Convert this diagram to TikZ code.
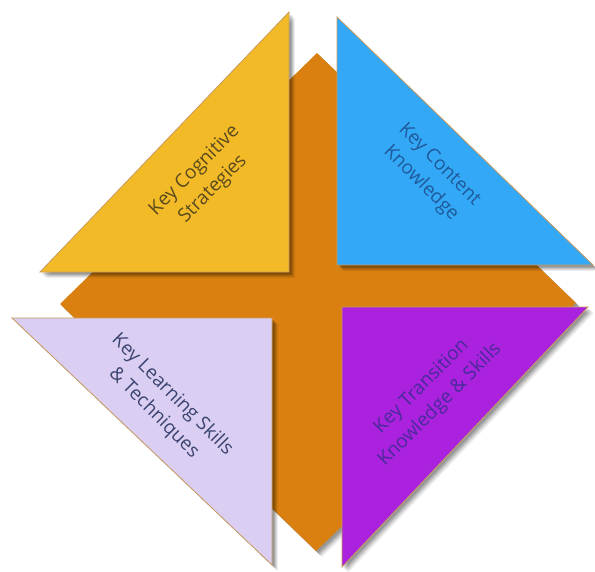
\documentclass[tikz,border=0pt]{standalone}
\usepackage{fontspec}
\setmainfont{Open Sans}
\definecolor{basecol}{HTML}{D98010}
\definecolor{cogfill}{HTML}{F2BA26}
\definecolor{cogtext}{HTML}{5A4A1E}
\definecolor{confill}{HTML}{33A8F7}
\definecolor{context}{HTML}{1F5A9A}
\definecolor{learnfill}{HTML}{DACFF3}
\definecolor{learntext}{HTML}{3C4470}
\definecolor{transfill}{HTML}{AA22DD}
\definecolor{transtext}{HTML}{4A2A9A}
\definecolor{rim}{HTML}{C89A60}
% soft shadow: a few faint copies of a path, shifted down and to the right
\newcommand\softshadow[1]{%
  \foreach \d/\o in {6/0.06,5/0.08,4/0.10,3/0.12,2/0.12}{%
    \fill[black,opacity=\o,shift={(\d,\d)}] #1;}}
\tikzset{
  piece/.style={draw=rim,line width=0.8pt,line join=miter},
  label/.style={align=center,font=\fontsize{19}{26}\selectfont,inner sep=0pt},
}
\begin{document}
\begin{tikzpicture}[x=1pt,y=-1pt]
\useasboundingbox (0,0) rectangle (595,571);
\fill[white] (0,0) rectangle (595,571);

% central diamond
\softshadow{(317,53) -- (576,303) -- (316,551) -- (60,304) -- cycle}
\fill[basecol] (317,53) -- (576,303) -- (316,551) -- (60,304) -- cycle;

% four corner triangles
\softshadow{(289,12) -- (289,272) -- (40,272) -- cycle}
\filldraw[piece,fill=cogfill] (289,12) -- (289,272) -- (40,272) -- cycle;

\softshadow{(337,17) -- (593,265) -- (337,265) -- cycle}
\filldraw[piece,fill=confill] (337,17) -- (593,265) -- (337,265) -- cycle;

\softshadow{(12,318) -- (272,318) -- (272,565) -- cycle}
\filldraw[piece,fill=learnfill] (12,318) -- (272,318) -- (272,565) -- cycle;

\softshadow{(342,307) -- (588,307) -- (342,567) -- cycle}
\filldraw[piece,fill=transfill] (342,307) -- (588,307) -- (342,567) -- cycle;

% labels
\node[label,text=cogtext,rotate=45] (cog) at (204,180) {Key Cognitive\\Strategies};
\node[label,text=context,rotate=-45] (con) at (430,174) {Key Content\\Knowledge};
\node[label,text=learntext,rotate=-45] (learn) at (163,404) {Key Learning Skills\\\& Techniques};
\node[label,text=transtext,rotate=45] (trans) at (431,396) {Key Transition\\Knowledge \& Skills};
\end{tikzpicture}
\end{document}
